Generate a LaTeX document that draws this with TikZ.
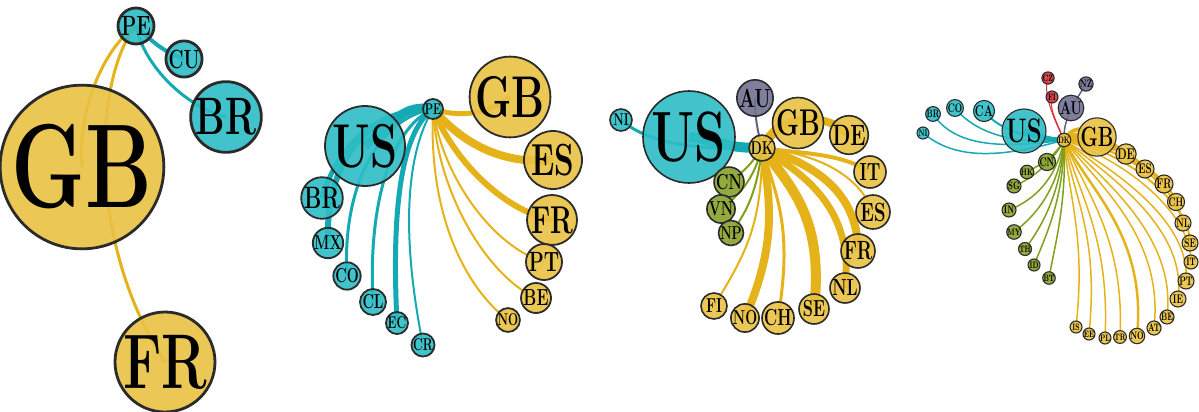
\documentclass[tikz,border=0pt]{standalone}
\usepackage{graphicx}
\usetikzlibrary{backgrounds}
\definecolor{tealN}{HTML}{2DBDC5}
\definecolor{tealE}{HTML}{14A9B3}
\definecolor{yelN}{HTML}{E9C143}
\definecolor{yelE}{HTML}{E5B21A}
\definecolor{grnN}{HTML}{86A12B}
\definecolor{grnE}{HTML}{7EA01A}
\definecolor{gryN}{HTML}{6F7191}
\definecolor{gryE}{HTML}{5D6283}
\definecolor{redN}{HTML}{D9363E}
\definecolor{redE}{HTML}{DD3040}
\definecolor{rim}{HTML}{2B2B2B}
\tikzset{
  cnode/.style={circle,draw=rim,inner sep=0pt,fill opacity=0.9,text opacity=1},
  tn/.style={cnode,fill=tealN},
  yn/.style={cnode,fill=yelN},
  gn/.style={cnode,fill=grnN},
  an/.style={cnode,fill=gryN},
  rn/.style={cnode,fill=redN},
  te/.style={draw=tealE},
  ye/.style={draw=yelE},
  ge/.style={draw=grnE},
  ae/.style={draw=gryE},
  re/.style={draw=redE}
}
\newcommand\cty[6]{\node[#5,minimum size={2*#4pt},font=\fontsize{\fpeval{1.55*#4}}{\fpeval{1.55*#4}}\selectfont\bfseries] (#1) at (#2,#3) {\scalebox{0.7}[1]{#6}};}
\newcommand\lnk[6]{\draw[#1,line width=#2pt] (#3.center) .. controls +#4 and +#5 .. (#6.center);}
\begin{document}
\begin{tikzpicture}[x=1pt,y=-1pt]
\useasboundingbox (0,0) rectangle (1199,412);
% ---------- panel 1 ----------
\begin{scope}[cnode/.append style={line width=2.8pt}]
\cty{aPE}{136}{26}{18}{tn}{PE}
\cty{aCU}{184}{59}{17}{tn}{CU}
\cty{aBR}{226}{117}{34}{tn}{BR}
\cty{aGB}{82}{167}{77}{yn}{GB}
\cty{aFR}{165}{362}{50}{yn}{FR}
\end{scope}
\begin{pgfonlayer}{background}
\lnk{ye}{3}{aPE}{(-30,20)}{(-5,-60)}{aGB}
\lnk{ye}{3}{aPE}{(-41,49)}{(-80,-122)}{aFR}
\lnk{te}{4}{aPE}{(20,20)}{(-15,-5)}{aCU}
\lnk{te}{3}{aPE}{(8,40)}{(-40,-10)}{aBR}
\end{pgfonlayer}
% ---------- panel 2 ----------
\begin{scope}[cnode/.append style={line width=1.8pt}]
\cty{bPE}{433}{109}{10}{tn}{PE}
\cty{bGB}{510}{97}{38}{yn}{GB}
\cty{bUS}{365}{146}{40}{tn}{US}
\cty{bES}{553}{160}{29}{yn}{ES}
\cty{bFR}{552}{220}{25}{yn}{FR}
\cty{bPT}{544}{262}{18}{yn}{PT}
\cty{bBE}{536}{298}{15}{yn}{BE}
\cty{bNO}{508}{320}{11}{yn}{NO}
\cty{bBR}{322}{198}{20}{tn}{BR}
\cty{bMX}{328}{243}{13}{tn}{MX}
\cty{bCO}{347}{276}{13}{tn}{CO}
\cty{bCL}{373}{302}{13}{tn}{CL}
\cty{bEC}{397}{323}{11}{tn}{EC}
\cty{bCR}{423}{345}{11}{tn}{CR}
\end{scope}
\begin{pgfonlayer}{background}
\lnk{ye}{5}{bPE}{(30,10)}{(-20,15)}{bGB}
\lnk{ye}{8}{bPE}{(30,35)}{(-50,5)}{bES}
\lnk{ye}{6}{bPE}{(20,50)}{(-50,-10)}{bFR}
\lnk{ye}{2}{bPE}{(10,70)}{(-50,-15)}{bPT}
\lnk{ye}{2}{bPE}{(5,90)}{(-45,-20)}{bBE}
\lnk{ye}{2}{bPE}{(-5,110)}{(-40,-30)}{bNO}
\lnk{te}{9}{bPE}{(-30,-5)}{(30,-25)}{bUS}
\lnk{te}{5}{bPE}{(-60,0)}{(15,-50)}{bBR}
\lnk{te}{6}{bPE}{(-73,1)}{(-3,-73)}{bMX}
\lnk{te}{3}{bPE}{(-60,10)}{(-5,-80)}{bCO}
\lnk{te}{3}{bPE}{(-45,20)}{(-5,-90)}{bCL}
\lnk{te}{5}{bPE}{(-35,25)}{(-5,-100)}{bEC}
\lnk{te}{2}{bPE}{(-30,50)}{(-20,-100)}{bCR}
\end{pgfonlayer}
% ---------- panel 3 ----------
\begin{scope}[cnode/.append style={line width=1.6pt}]
\cty{cDK}{762}{148}{12}{yn}{DK}
\cty{cUS}{689}{137}{46}{tn}{US}
\cty{cNI}{621}{120}{11}{tn}{NI}
\cty{cAU}{755}{98}{17}{an}{AU}
\cty{cGB}{798}{123}{24}{yn}{GB}
\cty{cDE}{849}{135}{19}{yn}{DE}
\cty{cIT}{870}{172}{16}{yn}{IT}
\cty{cES}{873}{212}{17}{yn}{ES}
\cty{cFR}{858}{251}{17}{yn}{FR}
\cty{cNL}{845}{288}{15}{yn}{NL}
\cty{cSE}{814}{309}{15}{yn}{SE}
\cty{cCH}{778}{318}{15}{yn}{CH}
\cty{cNO}{745}{318}{13}{yn}{NO}
\cty{cFI}{714}{306}{13}{yn}{FI}
\cty{cCN}{729}{182}{14}{gn}{CN}
\cty{cVN}{721}{209}{13}{gn}{VN}
\cty{cNP}{731}{233}{12}{gn}{NP}
\end{scope}
\begin{pgfonlayer}{background}
\lnk{te}{10}{cDK}{(-40,0)}{(40,5)}{cUS}
\lnk{te}{3}{cDK}{(-62,2)}{(29,25)}{cNI}
\lnk{ae}{2}{cDK}{(-5,-20)}{(0,20)}{cAU}
\lnk{ye}{5}{cDK}{(15,-15)}{(-20,5)}{cGB}
\lnk{ye}{8}{cDK}{(13,-33)}{(-24,-25)}{cDE}
\lnk{ye}{4}{cDK}{(30,5)}{(-30,-20)}{cIT}
\lnk{ye}{2}{cDK}{(50,5)}{(-15,-40)}{cES}
\lnk{ye}{8}{cDK}{(50,15)}{(0,-60)}{cFR}
\lnk{ye}{7}{cDK}{(40,25)}{(10,-80)}{cNL}
\lnk{ye}{10}{cDK}{(30,40)}{(10,-90)}{cSE}
\lnk{ye}{3}{cDK}{(15,50)}{(15,-90)}{cCH}
\lnk{ye}{8}{cDK}{(10,60)}{(30,-70)}{cNO}
\lnk{ye}{2}{cDK}{(0,80)}{(30,-50)}{cFI}
\lnk{ge}{2}{cDK}{(-10,15)}{(15,-10)}{cCN}
\lnk{ge}{2}{cDK}{(-8,30)}{(20,-15)}{cVN}
\lnk{ge}{2}{cDK}{(-5,45)}{(15,-20)}{cNP}
\end{pgfonlayer}
% ---------- panel 4 ----------
\begin{scope}[cnode/.append style={line width=1.1pt}]
\cty{dDK}{1064}{140}{6}{yn}{DK}
\cty{dUS}{1024}{131}{22}{tn}{US}
\cty{dCA}{984}{111}{10}{tn}{CA}
\cty{dCO}{955}{108}{8}{tn}{CO}
\cty{dBR}{933}{114}{7}{tn}{BR}
\cty{dNI}{923}{133}{6}{tn}{NI}
\cty{dAU}{1071}{108}{12}{an}{AU}
\cty{dNZ}{1086}{84}{7}{an}{NZ}
\cty{dCZ}{1048}{78}{6}{rn}{CZ}
\cty{dFI}{1052}{97}{6}{rn}{FI}
\cty{dGB}{1097}{137}{18}{yn}{GB}
\cty{dDE}{1126}{154}{10}{yn}{DE}
\cty{dES}{1145}{169}{9}{yn}{ES}
\cty{dFR}{1164}{184}{9}{yn}{FR}
\cty{dCH}{1176}{202}{8}{yn}{CH}
\cty{dNL}{1183}{223}{8}{yn}{NL}
\cty{dSE}{1190}{243}{8}{yn}{SE}
\cty{dIT}{1191}{262}{7}{yn}{IT}
\cty{dPT}{1186}{281}{8}{yn}{PT}
\cty{dIE}{1178}{299}{8}{yn}{IE}
\cty{dBE}{1167}{317}{7}{yn}{BE}
\cty{dAT}{1154}{328}{7}{yn}{AT}
\cty{dNO}{1137}{336}{7}{yn}{NO}
\cty{dTR}{1120}{337}{6}{yn}{TR}
\cty{dPL}{1105}{338}{6}{yn}{PL}
\cty{dEE}{1089}{334}{6}{yn}{EE}
\cty{dIS}{1076}{327}{6}{yn}{IS}
\cty{dCN}{1047}{162}{8}{gn}{CN}
\cty{dHK}{1027}{172}{6}{gn}{HK}
\cty{dSG}{1014}{186}{7}{gn}{SG}
\cty{dIN}{1009}{210}{7}{gn}{IN}
\cty{dMY}{1014}{232}{6}{gn}{MY}
\cty{dTH}{1025}{249}{6}{gn}{TH}
\cty{dID}{1034}{265}{6}{gn}{ID}
\cty{dBT}{1049}{278}{6}{gn}{BT}
\end{scope}
\begin{pgfonlayer}{background}
\lnk{te}{5}{dDK}{(-20,0)}{(20,5)}{dUS}
\lnk{te}{2}{dDK}{(-30,0)}{(15,20)}{dCA}
\lnk{te}{1.5}{dDK}{(-50,5)}{(20,25)}{dCO}
\lnk{te}{1.5}{dDK}{(-70,10)}{(20,30)}{dBR}
\lnk{te}{1.5}{dDK}{(-70,20)}{(30,25)}{dNI}
\lnk{ae}{1.5}{dDK}{(0,-15)}{(-5,15)}{dAU}
\lnk{ae}{1.5}{dAU}{(5,-8)}{(-5,8)}{dNZ}
\lnk{re}{1}{dDK}{(-12,-25)}{(-5,15)}{dCZ}
\lnk{re}{1}{dDK}{(-8,-20)}{(-3,12)}{dFI}
\lnk{ye}{3}{dDK}{(10,-10)}{(-15,0)}{dGB}
\lnk{ye}{4}{dDK}{(15,-25)}{(-20,-15)}{dDE}
\lnk{ye}{2}{dDK}{(25,-15)}{(-25,-15)}{dES}
\lnk{ye}{3}{dDK}{(40,-10)}{(-20,-20)}{dFR}
\lnk{ye}{2}{dDK}{(50,0)}{(-10,-30)}{dCH}
\lnk{ye}{2}{dDK}{(60,5)}{(-5,-35)}{dNL}
\lnk{ye}{2}{dDK}{(60,10)}{(0,-40)}{dSE}
\lnk{ye}{1.5}{dDK}{(60,20)}{(0,-50)}{dIT}
\lnk{ye}{1.5}{dDK}{(50,30)}{(5,-60)}{dPT}
\lnk{ye}{1.5}{dDK}{(45,35)}{(10,-70)}{dIE}
\lnk{ye}{1.5}{dDK}{(40,40)}{(10,-80)}{dBE}
\lnk{ye}{1.5}{dDK}{(35,45)}{(10,-90)}{dAT}
\lnk{ye}{2.5}{dDK}{(25,50)}{(10,-100)}{dNO}
\lnk{ye}{1.5}{dDK}{(20,50)}{(5,-100)}{dTR}
\lnk{ye}{1.5}{dDK}{(15,55)}{(5,-100)}{dPL}
\lnk{ye}{1.5}{dDK}{(10,60)}{(10,-100)}{dEE}
\lnk{ye}{1.5}{dDK}{(5,60)}{(10,-90)}{dIS}
\lnk{ge}{1.5}{dDK}{(-5,10)}{(8,-8)}{dCN}
\lnk{ge}{1.5}{dDK}{(-8,15)}{(15,-8)}{dHK}
\lnk{ge}{1.5}{dDK}{(-10,20)}{(20,-8)}{dSG}
\lnk{ge}{1.5}{dDK}{(-8,40)}{(25,-10)}{dIN}
\lnk{ge}{1.5}{dDK}{(-5,50)}{(20,-15)}{dMY}
\lnk{ge}{1.5}{dDK}{(-3,55)}{(15,-20)}{dTH}
\lnk{ge}{1.5}{dDK}{(0,60)}{(10,-25)}{dID}
\lnk{ge}{1.5}{dDK}{(3,65)}{(5,-30)}{dBT}
\end{pgfonlayer}
\end{tikzpicture}
\end{document}
